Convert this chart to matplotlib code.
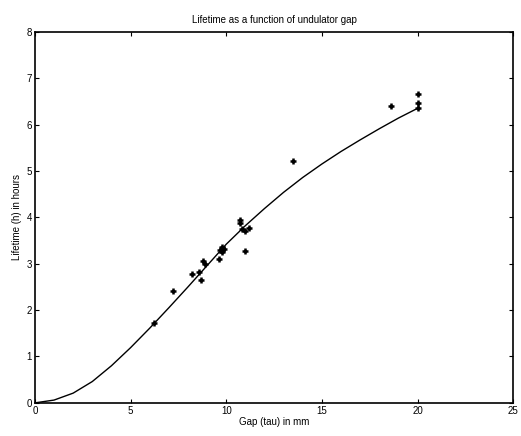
import matplotlib
matplotlib.use("Agg")
import matplotlib.pyplot as plt

# =========== Data ============

# measured lifetime points (gap in mm, lifetime in hours)
gap_meas = [6.2, 7.2, 8.2, 8.6, 8.7, 8.8, 8.9, 9.6, 9.7, 9.8, 9.8, 9.9,
            10.7, 10.7, 10.8, 11.0, 11.2, 11.0, 13.5, 18.6, 20.0, 20.0, 20.0]
life_meas = [1.72, 2.42, 2.78, 2.82, 2.64, 3.05, 3.00, 3.10, 3.30, 3.25, 3.35, 3.32,
             3.94, 3.88, 3.74, 3.70, 3.78, 3.28, 5.22, 6.40, 6.66, 6.47, 6.35]

# fitted curve
gap_fit = [0, 1, 2, 3, 4, 5, 6, 7, 8, 9, 10, 11, 12, 13, 14, 15, 16, 17, 18, 19, 20]
life_fit = [0, 0.06, 0.21, 0.46, 0.80, 1.19, 1.61, 2.05, 2.50, 2.96, 3.42, 3.82,
            4.19, 4.54, 4.86, 5.15, 5.42, 5.67, 5.91, 6.14, 6.35]

x_ticks = [0, 5, 10, 15, 20, 25]
y_ticks = [0, 1, 2, 3, 4, 5, 6, 7, 8]

# =========== Plot ============

plt.rcParams["font.family"] = ["Liberation Sans", "DejaVu Sans"]
plt.rcParams["font.size"] = 7

fig = plt.figure(figsize=(5.21, 4.36), dpi=100)
ax = fig.add_axes([0.067, 0.076, 0.918, 0.851])

ax.plot(gap_fit, life_fit, color="black", linewidth=1.0)
ax.plot(gap_meas, life_meas, linestyle="none", marker="+", markersize=5,
        markeredgewidth=1.8, color="black")

ax.set_xlim(0, 25)
ax.set_ylim(0, 8)
ax.set_xticks(x_ticks)
ax.set_yticks(y_ticks)
ax.tick_params(direction="in", length=3, width=0.8, top=True, right=True, pad=2)

for s in ax.spines.values():
    s.set_linewidth(1.2)

ax.set_title("Lifetime as a function of undulator gap", fontsize=7, pad=6)
ax.set_xlabel("Gap (tau) in mm", labelpad=1)
ax.set_ylabel("Lifetime (h) in hours", labelpad=3)

fig.savefig("out.png", dpi=100)
